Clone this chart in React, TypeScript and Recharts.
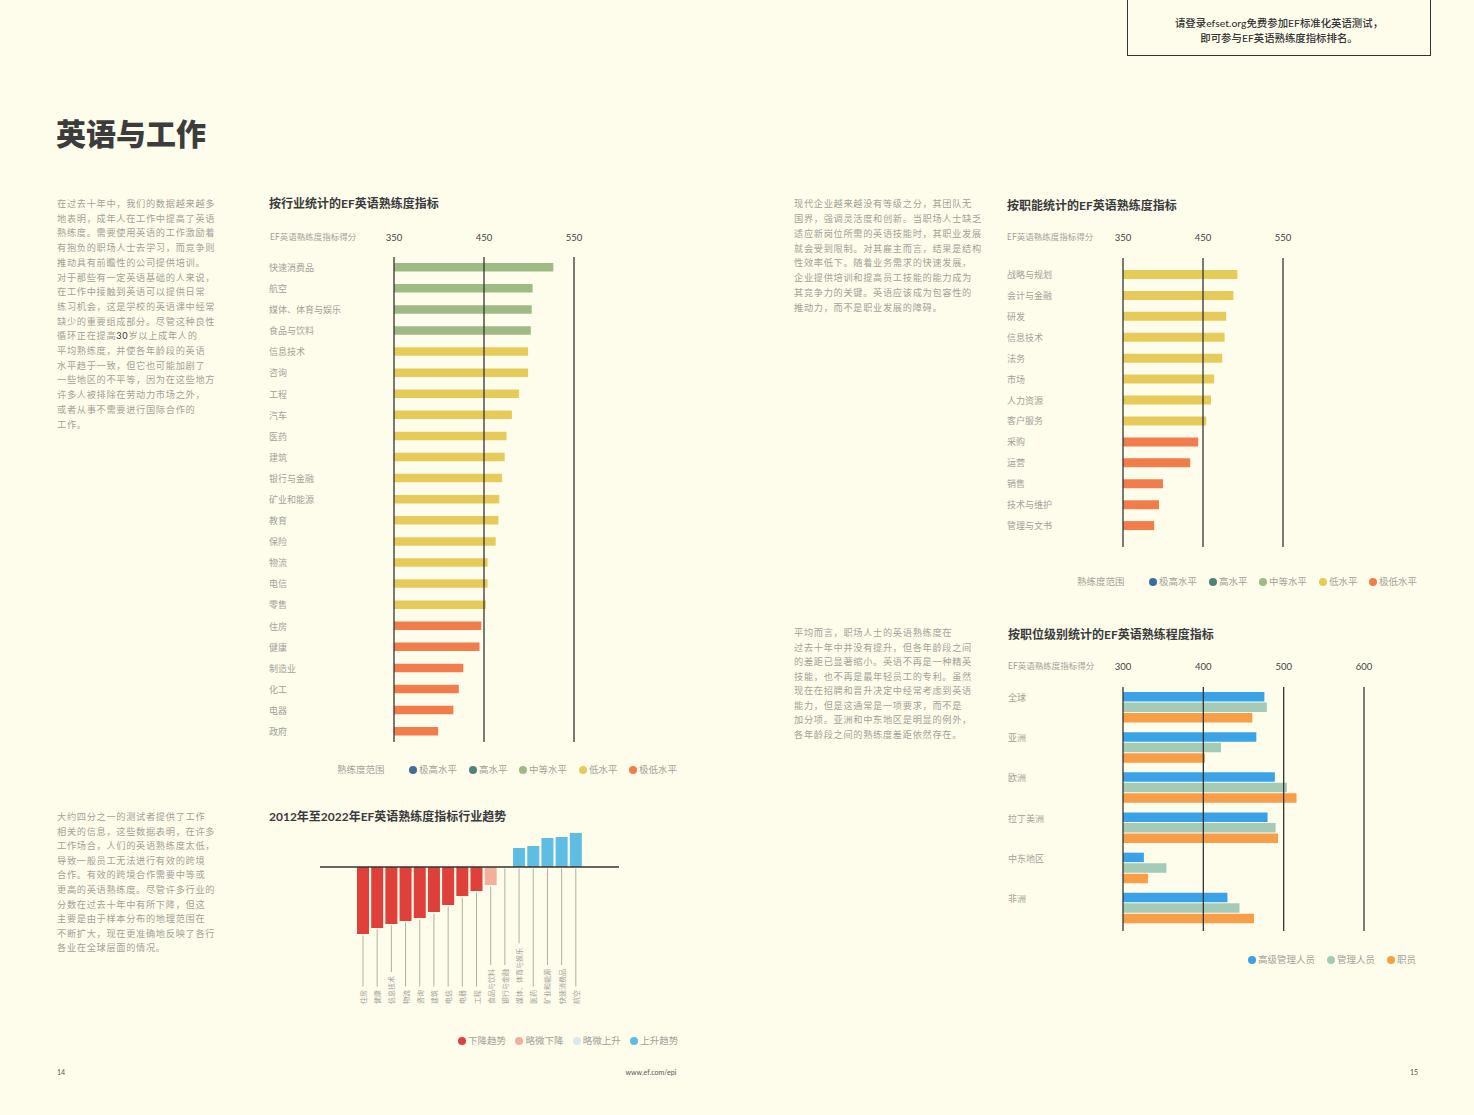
import React from "react";
import { BarChart, Bar, XAxis, YAxis, Cell, ReferenceLine } from "recharts";

const BG = "#fefdec";
const FONT = 'Lato, "Noto Sans CJK SC", sans-serif';
const GRAY = "#a3a197";
const DARK = "#3a3a3a";

// 按行业
const industries = [
  "快速消费品", "航空", "媒体、体育与娱乐", "食品与饮料", "信息技术", "咨询", "工程", "汽车",
  "医药", "建筑", "银行与金融", "矿业和能源", "教育", "保险", "物流", "电信", "零售",
  "住房", "健康", "制造业", "化工", "电器", "政府",
];
const industryScores = [
  527, 504, 503, 502, 499, 499, 489, 481, 475, 473, 470, 467, 466, 463, 454, 454, 452,
  447, 445, 427, 422, 416, 399,
];

// 按职能
const functions = [
  "战略与规划", "会计与金融", "研发", "信息技术", "法务", "市场", "人力资源", "客户服务",
  "采购", "运营", "销售", "技术与维护", "管理与文书",
];
const functionScores = [493, 488, 479, 477, 474, 464, 460, 454, 444, 434, 400, 395, 389];
const scoreTicks = [350, 450, 550];

// 按职位级别
const regions = ["全球", "亚洲", "欧洲", "拉丁美洲", "中东地区", "非洲"];
const seniorManagers = [476, 466, 489, 480, 326, 430];
const managers = [479, 422, 504, 490, 354, 445];
const staff = [461, 402, 516, 493, 331, 463];
const levelTicks = [300, 400, 500, 600];

// 2012-2022 趋势
const trendIndustries = [
  "住房", "健康", "信息技术", "物流", "咨询", "建筑", "电信", "电器", "工程", "食品与饮料",
  "银行与金融", "媒体、体育与娱乐", "医药", "矿业和能源", "快速消费品", "航空",
];
const trendChange = [-67, -61, -57, -54, -51, -45, -38, -29, -24, -18, 0.4, 19, 21, 29, 30, 34];
const trendTypes = [
  "下降趋势", "下降趋势", "下降趋势", "下降趋势", "下降趋势", "下降趋势", "下降趋势", "下降趋势",
  "下降趋势", "略微下降", "略微上升", "上升趋势", "上升趋势", "上升趋势", "上升趋势", "上升趋势",
];

const bandNames = ["极高水平", "高水平", "中等水平", "低水平", "极低水平"];
const bandColors: Record<string, string> = {
  极高水平: "#3d6e99",
  高水平: "#4e8478",
  中等水平: "#9fbb85",
  低水平: "#e6cb5b",
  极低水平: "#f27d4c",
};
const trendColors: Record<string, string> = {
  下降趋势: "#e0403a",
  略微下降: "#f2b09a",
  略微上升: "#dce8f0",
  上升趋势: "#5fbde3",
};
const levelNames = ["高级管理人员", "管理人员", "职员"];
const levelColors = ["#3aa3e8", "#a4cbb8", "#f89e48"];

// EF EPI 熟练度范围
const bandOf = (s: number) =>
  s >= 600 ? "极高水平" : s >= 550 ? "高水平" : s >= 500 ? "中等水平" : s >= 450 ? "低水平" : "极低水平";

const industryData = industries.map((name, i) => ({ name, score: industryScores[i] }));
const functionData = functions.map((name, i) => ({ name, score: functionScores[i] }));
const levelData = regions.map((name, i) => ({
  name,
  senior: seniorManagers[i],
  manager: managers[i],
  staff: staff[i],
}));
const trendData = trendIndustries.map((name, i) => ({ name, change: trendChange[i], type: trendTypes[i] }));

const para1: React.ReactNode[] = [
  "在过去十年中，我们的数据越来越多",
  "地表明，成年人在工作中提高了英语",
  "熟练度。需要使用英语的工作激励着",
  "有抱负的职场人士去学习，而竞争则",
  "推动具有前瞻性的公司提供培训。",
  "对于那些有一定英语基础的人来说，",
  "在工作中接触到英语可以提供日常",
  "练习机会，这是学校的英语课中经常",
  "缺少的重要组成部分。尽管这种良性",
  <>循环正在提高<span style={{ color: "#333" }}>30</span>岁以上成年人的</>,
  "平均熟练度，并使各年龄段的英语",
  "水平趋于一致，但它也可能加剧了",
  "一些地区的不平等，因为在这些地方",
  "许多人被排除在劳动力市场之外，",
  "或者从事不需要进行国际合作的",
  "工作。",
];
const para2 = [
  "大约四分之一的测试者提供了工作",
  "相关的信息，这些数据表明，在许多",
  "工作场合，人们的英语熟练度太低，",
  "导致一般员工无法进行有效的跨境",
  "合作。有效的跨境合作需要中等或",
  "更高的英语熟练度。尽管许多行业的",
  "分数在过去十年中有所下降，但这",
  "主要是由于样本分布的地理范围在",
  "不断扩大，现在更准确地反映了各行",
  "各业在全球层面的情况。",
];
const para3 = [
  "现代企业越来越没有等级之分，其团队无",
  "国界，强调灵活度和创新。当职场人士缺乏",
  "适应新岗位所需的英语技能时，其职业发展",
  "就会受到限制。对其雇主而言，结果是结构",
  "性效率低下。随着业务需求的快速发展，",
  "企业提供培训和提高员工技能的能力成为",
  "其竞争力的关键。英语应该成为包容性的",
  "推动力，而不是职业发展的障碍。",
];
const para4 = [
  "平均而言，职场人士的英语熟练度在",
  "过去十年中并没有提升，但各年龄段之间",
  "的差距已显著缩小。英语不再是一种精英",
  "技能，也不再是最年轻员工的专利。虽然",
  "现在在招聘和晋升决定中经常考虑到英语",
  "能力，但是这通常是一项要求，而不是",
  "加分项。亚洲和中东地区是明显的例外，",
  "各年龄段之间的熟练度差距依然存在。",
];

function Txt({ x, y, size = 9, color = GRAY, weight = 400, children, center = false, spacing = 0 }: any) {
  return (
    <div
      style={{
        position: "absolute",
        left: x,
        top: y,
        transform: center ? "translate(-50%, -50%)" : "translateY(-50%)",
        fontSize: size,
        lineHeight: 1,
        color,
        fontWeight: weight,
        whiteSpace: "nowrap",
        letterSpacing: spacing,
      }}
    >
      {children}
    </div>
  );
}

function Para({ x, y, lh, lines }: { x: number; y: number; lh: number; lines: React.ReactNode[] }) {
  return (
    <>
      {lines.map((l, i) => (
        <Txt key={i} x={x} y={y + i * lh} size={9.2} spacing={0.7}>
          {l}
        </Txt>
      ))}
    </>
  );
}

function Dot({ x, y, color, label }: any) {
  return (
    <>
      <div
        style={{
          position: "absolute",
          left: x - 4,
          top: y - 4,
          width: 8,
          height: 8,
          borderRadius: 4,
          background: color,
        }}
      />
      <Txt x={x + 6} y={y} size={9.5}>
        {label}
      </Txt>
    </>
  );
}

function BandLegend({ x, y }: { x: number; y: number }) {
  const offs = [76, 136, 186, 246, 296];
  return (
    <>
      <Txt x={x} y={y} size={9.5}>熟练度范围</Txt>
      {bandNames.map((b, i) => (
        <Dot key={b} x={x + offs[i]} y={y} color={bandColors[b]} label={b} />
      ))}
    </>
  );
}

const catTick = (lx: number, dy = 0) => (p: any) => (
  <text x={lx} y={p.y + dy} fill={GRAY} fontSize={9} dominantBaseline="central" fontFamily={FONT}>
    {p.payload.value}
  </text>
);
const topTick = (ty: number) => (p: any) => (
  <text x={p.x} y={ty} fill="#444" fontSize={9.5} textAnchor="middle" dominantBaseline="central" fontFamily={FONT}>
    {p.payload.value}
  </text>
);

const TrendBar = (props: any) => {
  const { x, y, width, height, fill, payload } = props;
  const top = Math.min(y, y + height);
  const bottom = Math.max(y, y + height);
  const cx = x + width / 2;
  const labelY = 184;
  const lineEnd = labelY - payload.name.length * 7.2 - 3;
  return (
    <g>
      <rect x={x} y={top} width={width} height={bottom - top} fill={fill} />
      <line x1={cx} x2={cx} y1={bottom + 1.5} y2={lineEnd} stroke="#b3ae9f" strokeWidth={1} />
      <text
        x={cx}
        y={labelY}
        transform={`rotate(-90 ${cx} ${labelY})`}
        fontSize={7}
        fill={GRAY}
        dominantBaseline="central"
        fontFamily={FONT}
      >
        {payload.name}
      </text>
    </g>
  );
};

export default function App() {
  return (
    <div
      style={{
        position: "absolute",
        left: 0,
        top: 0,
        width: 1474,
        height: 1115,
        background: BG,
        overflow: "hidden",
        fontFamily: FONT,
      }}
    >
      {/* 顶部提示框 */}
      <div
        style={{
          position: "absolute",
          left: 1127,
          top: -1,
          width: 302,
          height: 55,
          border: "1px solid #333",
        }}
      />
      <Txt x={1279} y={23} size={10.4} color="#333" weight={500} center>
        请登录efset.org免费参加EF标准化英语测试，
      </Txt>
      <Txt x={1279} y={38} size={10.4} color="#333" weight={500} center>
        即可参与EF英语熟练度指标排名。
      </Txt>

      <Txt x={56} y={133} size={30} color="#3c3c3c" weight={900}>
        英语与工作
      </Txt>

      <Para x={57} y={204} lh={14.7} lines={para1} />
      <Para x={57} y={817} lh={14.6} lines={para2} />
      <Para x={794} y={204} lh={14.86} lines={para3} />
      <Para x={794} y={633} lh={14.57} lines={para4} />

      {/* 按行业 */}
      <Txt x={269} y={204} size={12} color={DARK} weight={700}>按行业统计的EF英语熟练度指标</Txt>
      <Txt x={270} y={237} size={8.5}>EF英语熟练度指标得分</Txt>
      <div style={{ position: "absolute", left: 264, top: 222 }}>
        <BarChart width={330} height={520} layout="vertical" data={industryData} margin={{ top: 0, right: 20, left: 0, bottom: 0 }}>
          <XAxis type="number" domain={[350, 550]} ticks={scoreTicks} orientation="top" height={35} axisLine={false} tickLine={false} tick={topTick(15)} />
          <YAxis type="category" dataKey="name" width={130} axisLine={false} tickLine={false} tick={catTick(5)} interval={0} />
          <Bar dataKey="score" barSize={8.5} isAnimationActive={false}>
            {industryData.map((d) => (
              <Cell key={d.name} fill={bandColors[bandOf(d.score)]} />
            ))}
          </Bar>
          {scoreTicks.map((t) => (
            <ReferenceLine key={t} x={t} stroke="#333" strokeWidth={1.3} />
          ))}
        </BarChart>
      </div>
      <BandLegend x={337} y={770} />

      {/* 按职能 */}
      <Txt x={1007} y={206} size={12} color={DARK} weight={700}>按职能统计的EF英语熟练度指标</Txt>
      <Txt x={1007} y={237} size={8.5}>EF英语熟练度指标得分</Txt>
      <div style={{ position: "absolute", left: 1002, top: 222 }}>
        <BarChart width={301} height={325} layout="vertical" data={functionData} margin={{ top: 0, right: 20, left: 0, bottom: 0 }}>
          <XAxis type="number" domain={[350, 550]} ticks={scoreTicks} orientation="top" height={36} axisLine={false} tickLine={false} tick={topTick(15)} />
          <YAxis type="category" dataKey="name" width={121} axisLine={false} tickLine={false} tick={catTick(5)} interval={0} padding={{ top: 6, bottom: 11 }} />
          <Bar dataKey="score" barSize={9} isAnimationActive={false}>
            {functionData.map((d) => (
              <Cell key={d.name} fill={bandColors[bandOf(d.score)]} />
            ))}
          </Bar>
          {scoreTicks.map((t) => (
            <ReferenceLine key={t} x={t} stroke="#333" strokeWidth={1.3} />
          ))}
        </BarChart>
      </div>
      <BandLegend x={1077} y={582} />

      {/* 按职位级别 */}
      <Txt x={1008} y={635} size={12} color={DARK} weight={700}>按职位级别统计的EF英语熟练程度指标</Txt>
      <Txt x={1008} y={666} size={8.5}>EF英语熟练度指标得分</Txt>
      <div style={{ position: "absolute", left: 1002, top: 650 }}>
        <BarChart width={382} height={281} layout="vertical" data={levelData} barGap={1} margin={{ top: 0, right: 20, left: 0, bottom: 0 }}>
          <XAxis type="number" domain={[300, 600]} ticks={levelTicks} orientation="top" height={37} axisLine={false} tickLine={false} tick={topTick(16)} />
          <YAxis type="category" dataKey="name" width={121} axisLine={false} tickLine={false} tick={catTick(6, -9.5)} interval={0} padding={{ top: 0, bottom: 3 }} />
          <Bar dataKey="senior" fill={levelColors[0]} barSize={9.5} isAnimationActive={false} />
          <Bar dataKey="manager" fill={levelColors[1]} barSize={9.5} isAnimationActive={false} />
          <Bar dataKey="staff" fill={levelColors[2]} barSize={9.5} isAnimationActive={false} />
          {levelTicks.map((t) => (
            <ReferenceLine key={t} x={t} stroke="#333" strokeWidth={1.3} />
          ))}
        </BarChart>
      </div>
      <Dot x={1252} y={960} color={levelColors[0]} label={levelNames[0]} />
      <Dot x={1331} y={960} color={levelColors[1]} label={levelNames[1]} />
      <Dot x={1391} y={960} color={levelColors[2]} label={levelNames[2]} />

      {/* 2012-2022 趋势 */}
      <Txt x={269} y={817} size={12} color={DARK} weight={700}>2012年至2022年EF英语熟练度指标行业趋势</Txt>
      <div style={{ position: "absolute", left: 300, top: 820 }}>
        <BarChart width={340} height={200} data={trendData} margin={{ top: 7, right: 21, left: 20, bottom: 73 }}>
          <XAxis dataKey="name" hide padding={{ left: 36, right: 36 }} />
          <YAxis hide domain={[-80, 40]} />
          <Bar dataKey="change" barSize={12} shape={TrendBar} isAnimationActive={false}>
            {trendData.map((d) => (
              <Cell key={d.name} fill={trendColors[d.type]} />
            ))}
          </Bar>
          <ReferenceLine y={0} stroke="#333" strokeWidth={1.3} />
        </BarChart>
      </div>
      {Object.keys(trendColors).map((k, i) => (
        <Dot key={k} x={462 + i * 57.4} y={1041} color={trendColors[k]} label={k} />
      ))}

      <Txt x={57} y={1072} size={7} color="#555">14</Txt>
      <Txt x={651} y={1072} size={7} color="#555" center>www.ef.com/epi</Txt>
      <Txt x={1410} y={1072} size={7} color="#555">15</Txt>
    </div>
  );
}
